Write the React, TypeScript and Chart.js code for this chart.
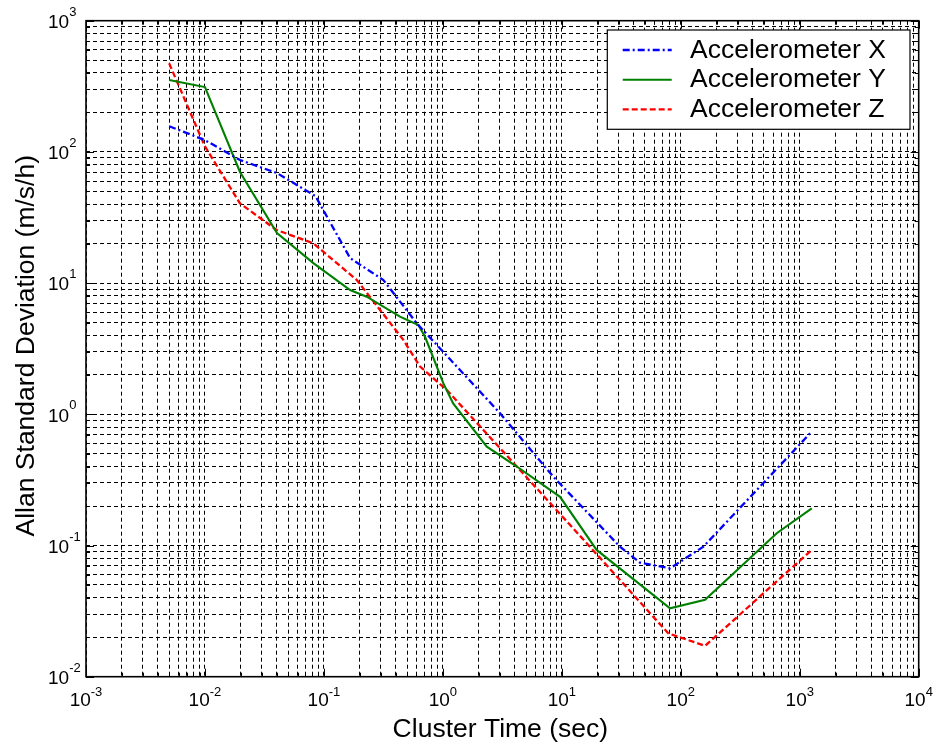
import React, { useEffect, useRef } from "react";
import { Chart, registerables } from "chart.js";

Chart.register(...registerables);

// ---------- data ----------
const seriesNames = ["Accelerometer X", "Accelerometer Y", "Accelerometer Z"];

const timeX = [0.005, 0.01, 0.0197, 0.0403, 0.085, 0.166, 0.316, 0.603, 3.02, 8.49, 30.8, 45.4, 81.2, 155, 1222];
const accelX = [157, 123, 86.7, 69, 46, 15.5, 10.56, 4.94, 1.02, 0.334, 0.098, 0.074, 0.067, 0.098, 0.716];

const timeY = [0.005, 0.01, 0.0197, 0.0403, 0.0815, 0.166, 0.229, 0.436, 0.622, 0.708, 1.01, 1.22, 2.34, 4.18, 9.66, 19.6, 81.2, 160, 641, 1261];
const accelY = [353, 312, 70.3, 24.1, 14.2, 8.86, 7.88, 5.55, 4.79, 3.9, 1.72, 1.21, 0.566, 0.4, 0.235, 0.0925, 0.0332, 0.0385, 0.124, 0.192];

const timeZ = [0.005, 0.01, 0.0197, 0.04, 0.0815, 0.189, 0.465, 0.643, 1.08, 4.18, 16.2, 78.5, 160, 1261];
const accelZ = [473, 110, 40.5, 25.4, 20.1, 10.56, 3.69, 2.31, 1.53, 0.4, 0.104, 0.0214, 0.0172, 0.0925];

const xExponents = [-3, -2, -1, 0, 1, 2, 3, 4];
const yExponents = [-2, -1, 0, 1, 2, 3];
const mantissas = [1, 2, 3, 4, 5, 6, 7, 8, 9];

const xTitle = "Cluster Time (sec)";
const yTitle = "Allan Standard Deviation (m/s/h)";

// ---------- helpers ----------
const FONT = '"Liberation Sans", Arial, Helvetica, sans-serif';

function logTicks(exps: number[]) {
  const out: number[] = [];
  for (let i = 0; i < exps.length; i++) {
    const e = exps[i];
    if (i === exps.length - 1) {
      out.push(Math.pow(10, e));
    } else {
      mantissas.forEach((m) => out.push(parseFloat((m * Math.pow(10, e)).toPrecision(6))));
    }
  }
  return out;
}

function isDecade(v: number) {
  const l = Math.log10(v);
  return Math.abs(l - Math.round(l)) < 1e-9;
}

const styles = [
  { color: "#0000ff", dash: [7, 3, 2, 3], width: 2.3 },
  { color: "#008000", dash: [] as number[], width: 2.1 },
  { color: "#ff0000", dash: [6, 3], width: 2.3 },
];

const overlayPlugin = {
  id: "overlay",
  afterDatasetsDraw(chart: any) {
    const { ctx, chartArea: a, scales } = chart;
    const xs = scales.x;
    const ys = scales.y;
    ctx.save();
    ctx.setLineDash([]);
    ctx.strokeStyle = "#000";
    ctx.lineWidth = 1;
    const line = (x1: number, y1: number, x2: number, y2: number) => {
      ctx.beginPath();
      ctx.moveTo(x1, y1);
      ctx.lineTo(x2, y2);
      ctx.stroke();
    };
    // inner tick marks
    xs.ticks.forEach((t: any) => {
      const px = Math.round(xs.getPixelForValue(t.value)) + 0.5;
      const len = isDecade(t.value) ? 8 : 4;
      line(px, a.bottom, px, a.bottom - len);
      line(px, a.top, px, a.top + len);
    });
    ys.ticks.forEach((t: any) => {
      const py = Math.round(ys.getPixelForValue(t.value)) + 0.5;
      const len = isDecade(t.value) ? 8 : 4;
      line(a.left, py, a.left + len, py);
      line(a.right, py, a.right - len, py);
    });
    // box
    ctx.lineWidth = 1.6;
    ctx.strokeRect(a.left, a.top, a.right - a.left, a.bottom - a.top);

    // legend
    const lx = a.right - 311.4;
    const ly = a.top + 9.3;
    const lw = 302.7;
    const lh = 99.3;
    ctx.fillStyle = "#fff";
    ctx.fillRect(lx, ly, lw, lh);
    ctx.lineWidth = 1.2;
    ctx.strokeStyle = "#000";
    ctx.strokeRect(lx, ly, lw, lh);
    ctx.font = `26.5px ${FONT}`;
    ctx.textAlign = "left";
    ctx.textBaseline = "alphabetic";
    seriesNames.forEach((name, i) => {
      const cy = ly + 20 + i * 29.7;
      ctx.strokeStyle = styles[i].color;
      ctx.lineWidth = styles[i].width;
      ctx.setLineDash(styles[i].dash);
      line(lx + 15.4, cy, lx + 64.4, cy);
      ctx.setLineDash([]);
      ctx.fillStyle = "#000";
      ctx.fillText(name, lx + 82.7, cy + 7.5);
    });
    ctx.restore();
  },
  afterDraw(chart: any) {
    const { ctx, chartArea: a, scales } = chart;
    const xs = scales.x;
    const ys = scales.y;
    ctx.save();
    ctx.fillStyle = "#000";
    ctx.textBaseline = "alphabetic";
    ctx.textAlign = "left";
    const baseFont = `19px ${FONT}`;
    const expFont = `13px ${FONT}`;
    // x tick labels
    xExponents.forEach((e) => {
      const px = xs.getPixelForValue(Math.pow(10, e));
      const es = String(e);
      ctx.font = baseFont;
      const w10 = ctx.measureText("10").width;
      ctx.font = expFont;
      const we = ctx.measureText(es).width;
      const start = px - (w10 + we) / 2;
      ctx.font = baseFont;
      ctx.fillText("10", start, a.bottom + 29.3);
      ctx.font = expFont;
      ctx.fillText(es, start + w10, a.bottom + 18.8);
    });
    // y tick labels
    yExponents.forEach((e) => {
      const py = ys.getPixelForValue(Math.pow(10, e));
      const es = String(e);
      ctx.font = baseFont;
      const w10 = ctx.measureText("10").width;
      ctx.fillText("10", 48, py + 7.3);
      ctx.font = expFont;
      ctx.fillText(es, 48 + w10, py - 5);
    });
    // titles
    ctx.font = `26.5px ${FONT}`;
    ctx.textAlign = "center";
    ctx.fillText(xTitle, (a.left + a.right) / 2 - 2, a.bottom + 60.3);
    ctx.translate(33.5, (a.top + a.bottom) / 2 - 3);
    ctx.rotate(-Math.PI / 2);
    ctx.fillText(yTitle, 0, 0);
    ctx.restore();
  },
};

export default function App() {
  const ref = useRef<HTMLCanvasElement | null>(null);

  useEffect(() => {
    if (!ref.current) return;
    const mk = (xs: number[], ys: number[]) => xs.map((x, i) => ({ x, y: ys[i] }));
    const datasets = [
      { label: seriesNames[0], data: mk(timeX, accelX) },
      { label: seriesNames[1], data: mk(timeY, accelY) },
      { label: seriesNames[2], data: mk(timeZ, accelZ) },
    ].map((d, i) => ({
      ...d,
      borderColor: styles[i].color,
      backgroundColor: styles[i].color,
      borderDash: styles[i].dash,
      borderWidth: styles[i].width,
      pointRadius: 0,
      fill: false,
      tension: 0,
    }));

    const xTickVals = logTicks(xExponents);
    const yTickVals = logTicks(yExponents);

    const chart = new Chart(ref.current, {
      type: "line",
      data: { datasets },
      plugins: [overlayPlugin],
      options: {
        responsive: false,
        animation: false,
        devicePixelRatio: 1,
        layout: { padding: { left: 86, top: 20.7, right: 16.3, bottom: 68.3 } },
        plugins: { legend: { display: false }, tooltip: { enabled: false } },
        scales: {
          x: {
            type: "logarithmic",
            min: 1e-3,
            max: 1e4,
            afterBuildTicks: (s: any) => {
              s.ticks = xTickVals.map((v) => ({ value: v }));
            },
            ticks: { display: false },
            grid: { color: "#000", lineWidth: 1, drawTicks: false },
            border: { display: false, dash: [4, 3] },
          },
          y: {
            type: "logarithmic",
            min: 1e-2,
            max: 1e3,
            afterBuildTicks: (s: any) => {
              s.ticks = yTickVals.map((v) => ({ value: v }));
            },
            ticks: { display: false },
            grid: { color: "#000", lineWidth: 1, drawTicks: false },
            border: { display: false, dash: [4, 3] },
          },
        },
      } as any,
    });
    return () => chart.destroy();
  }, []);

  return (
    <div style={{ position: "absolute", left: 0, top: 0, width: 935, height: 745, background: "#fff" }}>
      <canvas ref={ref} width={935} height={745} style={{ display: "block", width: 935, height: 745 }} />
    </div>
  );
}
